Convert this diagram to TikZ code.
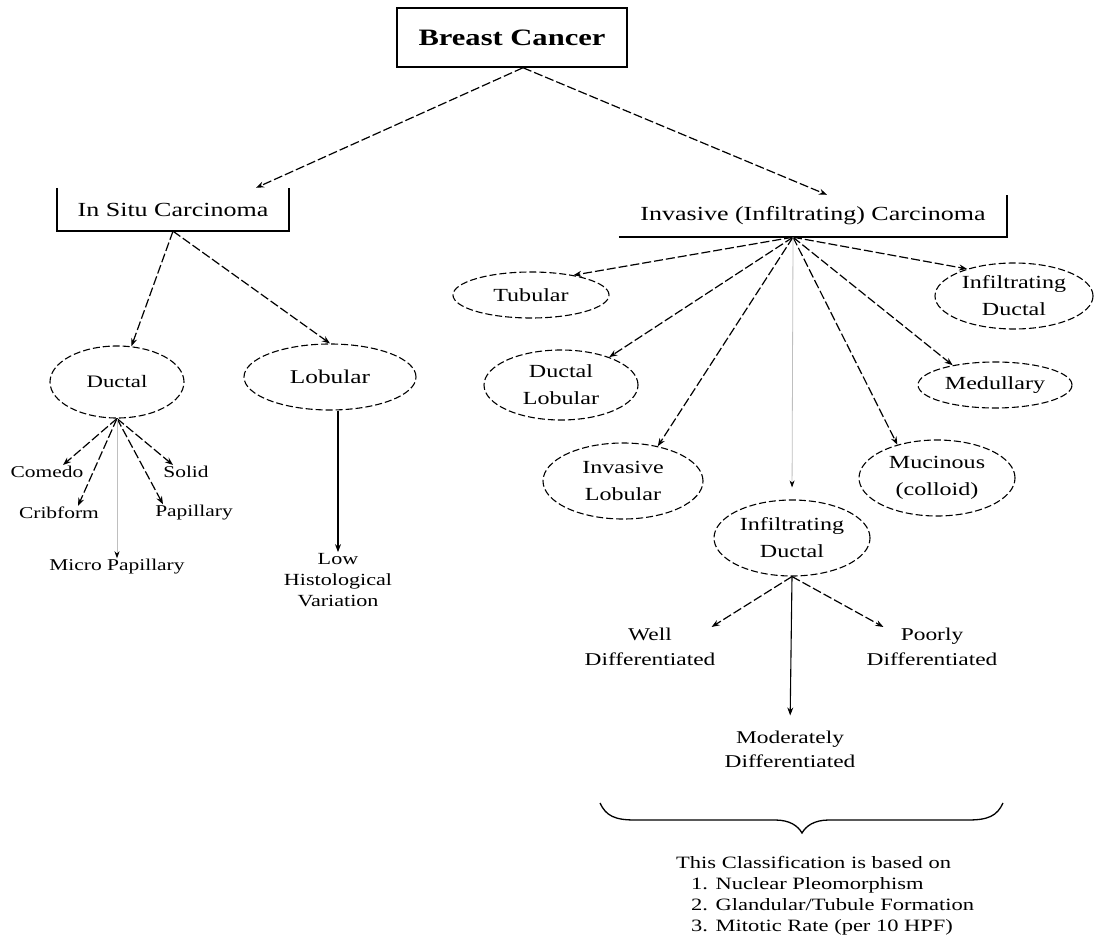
\documentclass[tikz,border=0pt]{standalone}
\usepackage{fontspec}
\setmainfont{Liberation Serif}[FakeStretch=1.3]
\usetikzlibrary{shapes.geometric,arrows.meta}
\begin{document}
\begin{tikzpicture}[x=1pt,y=-1pt,
	every node/.style={inner sep=1pt, align=center},
	oval/.style={ellipse, draw, dash pattern=on 7pt off 3pt, line width=1.1pt, inner sep=0pt, font=\fontsize{18.5}{27}\selectfont},
	leaf/.style={font=\fontsize{16.5}{21}\selectfont},
	link/.style={-{Stealth[length=8pt,width=6pt]}, line width=1.2pt, dash pattern=on 9pt off 3pt},
	plain/.style={-{Stealth[length=8pt,width=6pt]}, line width=1.1pt},
	faint/.style={-{Stealth[length=7pt,width=5pt,black]}, draw=black!25, line width=0.8pt}]
	\useasboundingbox (0,0) rectangle (1097,941);
	% headings
	\node[draw, line width=1.5pt, minimum width=230pt, minimum height=59pt, font=\fontsize{23.5}{28}\selectfont\bfseries] (bc) at (512,37.5) {Breast Cancer};
	\node[minimum width=232pt, minimum height=43pt, font=\fontsize{20}{24}\selectfont] (insitu) at (173,209.5) {In Situ Carcinoma};
	\node[minimum width=388pt, minimum height=42pt, font=\fontsize{20}{24}\selectfont] (inv) at (813,216) {Invasive (Infiltrating) Carcinoma};
	\draw[line width=1.5pt] (insitu.north west) |- (insitu.south east) -- (insitu.north east);
	\draw[line width=1.5pt] (inv.south west) -- (inv.south east) -- (inv.north east);
	% in situ side
	\node[oval, minimum width=134pt, minimum height=72pt, font=\fontsize{17.5}{21}\selectfont] (ductal) at (117,382) {Ductal};
	\node[oval, minimum width=172pt, minimum height=66pt, font=\fontsize{19.5}{24}\selectfont] (lobular) at (330,377) {Lobular};
	\node[leaf] (comedo) at (47,472) {Comedo};
	\node[leaf] (solid) at (186,472) {Solid};
	\node[leaf] (cribform) at (59,513) {Cribform};
	\node[leaf] (papillary) at (194,513) {Papillary};
	\node[leaf] (micro) at (117,567) {Micro Papillary};
	\node[leaf, font=\fontsize{17}{21}\selectfont] (low) at (338,580) {Low\\Histological\\Variation};
	% invasive side
	\node[oval, minimum width=156pt, minimum height=46pt] (tubular) at (531,295) {Tubular};
	\node[oval, minimum width=158pt, minimum height=66pt] (infduct) at (1014,296) {Infiltrating\\Ductal};
	\node[oval, minimum width=154pt, minimum height=70pt] (ductlob) at (561,385) {Ductal\\Lobular};
	\node[oval, minimum width=154pt, minimum height=46pt] (medullary) at (995,385) {Medullary};
	\node[oval, minimum width=160pt, minimum height=76pt] (invlob) at (623,481) {Invasive\\Lobular};
	\node[oval, minimum width=156pt, minimum height=76pt] (mucinous) at (937,478) {Mucinous\\(colloid)};
	\node[oval, minimum width=156pt, minimum height=76pt] (idc) at (792,538) {Infiltrating\\Ductal};
	\node[font=\fontsize{18}{25}\selectfont] (well) at (650,647) {Well\\Differentiated};
	\node[font=\fontsize{18}{25}\selectfont] (poorly) at (932,647) {Poorly\\Differentiated};
	\node[font=\fontsize{18}{24}\selectfont] (moderately) at (790,749) {Moderately\\Differentiated};
	\node[anchor=north west, align=left, font=\fontsize{17.3}{21}\selectfont] (basis) at (675,855) {This Classification is based on\\
		\hspace*{15pt}1. Nuclear Pleomorphism\\
		\hspace*{15pt}2. Glandular/Tubule Formation\\
		\hspace*{15pt}3. Mitotic Rate (per 10 HPF)};
	% connectors
	\draw[link] ([xshift=11pt]bc.south) -- ([xshift=83pt]insitu.north);
	\draw[link] ([xshift=11pt]bc.south) -- ([xshift=14pt]inv.north);
	\draw[link] (insitu.south) -- (ductal.68);
	\draw[link] (insitu.south) -- (lobular.north);
	\draw[plain] ([xshift=8pt]lobular.south) -- (low.north);
	\foreach \leafname/\dx in {comedo/16, solid/-13, cribform/19, papillary/-31}
		\draw[link] (ductal.south) -- ([xshift=\dx pt]\leafname.north);
	\draw[faint] (ductal.south) -- (micro.north);
	\coordinate (hub) at ([xshift=-20pt]inv.south);
	\foreach \target in {tubular.25, ductlob.30, invlob.45, mucinous.140, medullary.155, infduct.150}
		\draw[link] (hub) -- (\target);
	\draw[faint, shorten >=12pt] (hub) -- (idc.north);
	\draw[link] (idc.south) -- ([xshift=-5pt]well.north east);
	\draw[link] (idc.south) -- ([xshift=18pt]poorly.north west);
	\draw[plain, shorten >=14pt] (idc.south) -- (moderately.north);
	% brace
	\draw[line width=1.3pt] (600,803) .. controls (606,816) and (615,820) .. (635,820) -- (775,820)
		.. controls (790,820) and (798,826) .. (802,833) .. controls (806,826) and (814,820) .. (829,820)
		-- (968,820) .. controls (988,820) and (997,816) .. (1003,803);
\end{tikzpicture}
\end{document}
